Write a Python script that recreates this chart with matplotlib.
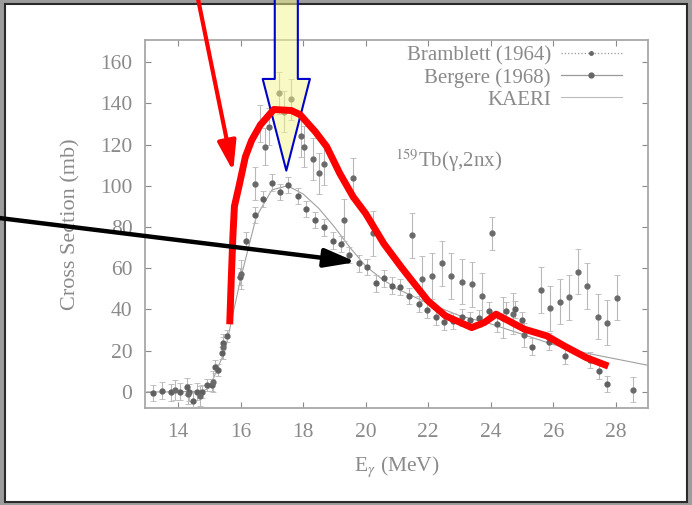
import numpy as np
import matplotlib.pyplot as plt
from matplotlib.lines import Line2D
from matplotlib.patches import Rectangle

# Bramblett (1964) - lower series, small errors
bram_x = [13.2, 13.48, 13.77, 14.06, 14.28, 14.36, 14.49, 14.6, 14.76, 14.92, 15.08, 15.18,
          15.26, 15.4, 15.43, 15.55, 15.98, 16.18, 16.46, 16.73, 16.99, 17.26, 17.53, 17.82,
          18.1, 18.38, 18.65, 18.94, 19.2, 19.48, 19.77, 20.04, 20.34, 20.57, 20.84, 21.1,
          21.4, 21.69, 21.96, 22.26, 22.51, 22.8, 23.08, 23.35, 23.64, 23.93, 24.2, 24.5,
          24.78, 24.99, 25.32, 25.85, 26.38, 27.16, 27.45, 27.72]
bram_y = [-0.5, 0.6, -0.2, 0.2, 2.6, -0.2, -4.2, 0.2, 0.2, 3.4, 3.4, 12.3,
          10.7, 18.8, 23.6, 27.0, 55.9, 73.4, 85.8, 93.5, 101.5, 97.0, 100.4, 95.0,
          88.7, 83.4, 79.8, 73.4, 71.8, 66.4, 62.4, 60.7, 52.7, 55.1, 51.5, 51.0,
          46.5, 42.7, 39.8, 36.5, 34.0, 34.5, 36.2, 35.0, 35.7, 39.4, 33.0, 39.4,
          40.0, 34.9, 22.0, 24.4, 17.5, 15.5, 10.3, 3.9]
bram_err = [4, 4, 4, 4, 4, 4, 4, 4, 3, 3, 3, 3,
            3, 3, 3, 3, 4, 4, 4, 4, 4, 4, 4, 4,
            4, 4, 4, 4, 4, 4, 4, 4, 4, 4, 4, 4,
            4, 4, 4, 4, 4, 4, 4, 4, 4, 4, 4, 4,
            4, 4, 4, 4, 4, 4, 4, 4]

# Bergere (1968) - upper series, larger errors
berg_x = [13.9, 14.3, 14.7, 15.1, 15.45, 16.0, 16.46, 16.62, 16.77, 16.92, 17.24, 17.4,
          17.6, 17.93, 18.04, 18.3, 18.52, 18.65, 19.29, 19.6, 20.23, 21.48, 21.8, 22.12,
          22.44, 22.74, 23.08, 23.4, 23.72, 24.04, 24.4, 24.7, 25.05, 25.61, 25.9, 26.22,
          26.49, 26.79, 27.08, 27.42, 27.72, 28.04, 28.54]
berg_y = [1.0, -1.0, -2.0, 5.0, 22.0, 57.0, 101.0, 130.0, 119.0, 128.6, 145.0, 136.0,
          142.0, 124.0, 119.0, 113.0, 106.0, 110.5, 83.4, 103.6, 76.9, 76.0, 55.0, 56.3,
          62.4, 56.2, 53.5, 52.2, 46.5, 76.9, 36.0, 38.0, 27.6, 49.5, 40.6, 43.8,
          45.9, 58.3, 51.4, 36.5, 33.6, 45.7, 1.0]
berg_err = [5, 5, 5, 5, 6, 7, 8, 9, 9, 9, 10, 10,
            10, 10, 10, 10, 10, 10, 10, 10, 11, 11, 11, 11,
            11, 11, 11, 11, 11, 8, 10, 10, 6, 11, 11, 11,
            11, 11, 11, 11, 11, 11, 6]

# KAERI evaluation
kaeri_x = [13.0, 14.0, 14.8, 15.0, 15.5, 16.0, 16.5, 17.0, 17.5, 18.0, 18.5, 19.0, 19.5,
           20.0, 20.5, 21.0, 22.0, 23.0, 24.0, 25.0, 26.0, 27.0, 28.0, 29.0]
kaeri_y = [0, 0, 0.5, 2, 20, 55, 85, 98, 100, 96, 89, 80, 70,
           61, 55, 50, 43, 37, 33, 28, 23, 19, 16, 13]

# hand drawn red curve
red_x = [15.65, 15.7, 15.75, 15.8, 15.95, 16.15, 16.35, 16.63, 17.06, 17.62, 17.9, 18.4, 18.75,
         19.17, 19.6, 20.0, 20.58, 21.14, 21.56, 21.99, 22.55, 23.39, 23.8, 24.17, 25.08,
         25.79, 26.35, 27.06, 27.76]
red_y = [32.8, 55, 75, 90, 100, 114, 122, 129.5, 137, 136.5, 134.5, 126, 119,
         106, 94.6, 86.5, 71.9, 60.5, 52.4, 44.2, 36.9, 31.2, 33.7, 37.7, 30.4,
         27.2, 22.3, 16.6, 12.5]

xticks = [14, 16, 18, 20, 22, 24, 26, 28]
yticks = [0, 20, 40, 60, 80, 100, 120, 140, 160]

gray = '#8a8a8a'
plt.rcParams['font.family'] = ['Liberation Serif', 'DejaVu Serif']
plt.rcParams['mathtext.fontset'] = 'stix'

fig = plt.figure(figsize=(6.92, 5.05), dpi=100)
fig.patch.set_facecolor('#9c9c9c')
fig.patches.append(Rectangle((5/692, 3/505), 682/692, 498/505, transform=fig.transFigure,
                             facecolor='white', edgecolor='#2a2a2a', lw=1.5, zorder=-10))

ax = fig.add_axes([145/692, 97/505, 503/692, 368/505])
ax.patch.set_alpha(0)
ax.set_xlim(12.94, 29.03)
ax.set_ylim(-7.8, 170.7)

ax.plot(kaeri_x, kaeri_y, color='#a0a0a0', lw=0.8, zorder=2)
ax.errorbar(bram_x, bram_y, yerr=bram_err, fmt='o', ms=3.5, color='#606060',
            ecolor='#b8b8b8', elinewidth=0.8, capsize=2, capthick=0.6, zorder=3)
ax.errorbar(berg_x, berg_y, yerr=berg_err, fmt='o', ms=3.5, color='#6a6a6a',
            ecolor='#b8b8b8', elinewidth=0.8, capsize=2.5, capthick=0.6, zorder=3)

ax.set_xticks(xticks)
ax.set_yticks(yticks)
ax.tick_params(direction='in', length=4, width=0.8, color=gray, labelcolor=gray,
               labelsize=15.5, top=True, right=True)
ax.tick_params(axis='y', pad=9)
ax.tick_params(axis='x', pad=11)
for s in ax.spines.values():
    s.set_color('#a8a8a8')
    s.set_linewidth(1.3)

ax.set_xlabel('E$_\\gamma$ (MeV)', color=gray, fontsize=15.5, labelpad=9)
ax.set_ylabel('Cross Section (mb)', color=gray, fontsize=16, labelpad=14)
ax.text(20.95, 112, '$^{159}$Tb(γ,2nx)', color=gray, fontsize=15, ha='left', va='center')

handles = [Line2D([], [], color='#999999', ls=':', lw=0.9, marker='o', ms=2.5, mfc='#666666', mec='#666666'),
           Line2D([], [], color='#999999', ls='-', lw=0.9, marker='o', ms=3.5, mfc='#666666', mec='#666666'),
           Line2D([], [], color='#bbbbbb', ls='-', lw=0.8)]
ax.legend(handles, ['Bramblett (1964)', 'Bergere (1968)', 'KAERI'], loc='upper right',
          bbox_to_anchor=(0.985, 1.035), frameon=False, markerfirst=False, fontsize=15,
          labelcolor=gray, handlelength=2.9, labelspacing=0.12, handletextpad=0.5)

# annotations
ax.plot(red_x, red_y, color='#ff0000', lw=5, solid_joinstyle='round',
        solid_capstyle='butt', zorder=6)
ax.annotate('', xy=(17.46, 106), xytext=(17.46, 200), annotation_clip=False,
            arrowprops=dict(arrowstyle='simple,head_length=3.3,head_width=1.7,tail_width=0.83',
                            mutation_scale=20, fc=(0.96, 0.96, 0.55, 0.5), ec='#0000cc', lw=1.5),
            zorder=5)
ax.annotate('', xy=(15.76, 107), xytext=(14.51, 200), annotation_clip=False,
            arrowprops=dict(arrowstyle='-|>,head_length=0.9,head_width=0.28',
                            mutation_scale=20, color='#ff0000', lw=3, shrinkA=0, shrinkB=0),
            zorder=7)
ax.annotate('', xy=(19.7, 63), xytext=(8.2, 84.5), annotation_clip=False,
            arrowprops=dict(arrowstyle='-|>,head_length=0.95,head_width=0.28',
                            mutation_scale=20, color='black', lw=3.2, shrinkA=0, shrinkB=0),
            zorder=7)

fig.savefig('out.png', dpi=100, facecolor=fig.get_facecolor())
